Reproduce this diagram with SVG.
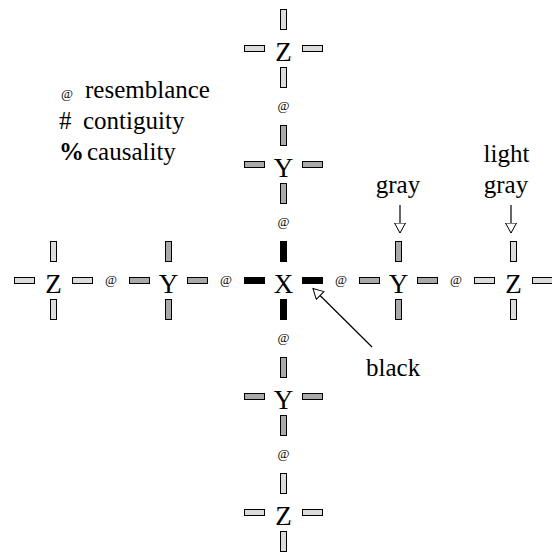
<svg xmlns="http://www.w3.org/2000/svg" width="552" height="556" viewBox="0 0 552 556">
<style>
text { font-family: "Liberation Serif", "Times New Roman", serif; fill: #000; }
.n { font-size: 27px; text-anchor: middle; }
.at { font-size: 13px; text-anchor: middle; }
.lb { font-size: 25px; }
.c { text-anchor: middle; }
rect { stroke: #000; stroke-width: 1; }
.k { fill: #000; }
.g { fill: #a9a9a9; }
.l { fill: #dcdcdc; }
.arr { stroke: #000; stroke-width: 1.2; fill: none; marker-end: url(#open); }
</style>
<defs>
<marker id="open" markerUnits="userSpaceOnUse" markerWidth="14" markerHeight="14" refX="10.5" refY="6" orient="auto">
<path d="M0.5,0.5 L10.5,6 L0.5,11.5 Z" fill="#fff" stroke="#000" stroke-width="1"/>
</marker>
<g id="bars">
<rect x="-39" y="-3" width="20" height="6"/>
<rect x="19" y="-3" width="20" height="6"/>
<rect x="-3" y="-39" width="6" height="20"/>
<rect x="-3" y="19" width="6" height="20"/>
</g>
</defs>

<g id="legend" class="lb">
<text x="61" y="98"><tspan font-size="13">@</tspan><tspan x="85">resemblance</tspan></text>
<text x="59" y="129">#<tspan x="83">contiguity</tspan></text>
<text x="59" y="160"><tspan font-weight="bold">%</tspan><tspan x="87">causality</tspan></text>
</g>

<g id="node-X" class="k" transform="translate(283.5,280.5)"><use href="#bars"/><text class="n" x="0" y="12.5">X</text></g>
<g id="node-Y-top" class="g" transform="translate(283.5,164.5)"><use href="#bars"/><text class="n" x="0" y="12.5">Y</text></g>
<g id="node-Z-top" class="l" transform="translate(283.5,48.5)"><use href="#bars"/><text class="n" x="0" y="12.5">Z</text></g>
<g id="node-Y-bottom" class="g" transform="translate(283.5,396.5)"><use href="#bars"/><text class="n" x="0" y="12.5">Y</text></g>
<g id="node-Z-bottom" class="l" transform="translate(283.5,512.5)"><use href="#bars"/><text class="n" x="0" y="12.5">Z</text></g>
<g id="node-Y-left" class="g" transform="translate(168.5,280.5)"><use href="#bars"/><text class="n" x="0" y="12.5">Y</text></g>
<g id="node-Z-left" class="l" transform="translate(53.5,280.5)"><use href="#bars"/><text class="n" x="0" y="12.5">Z</text></g>
<g id="node-Y-right" class="g" transform="translate(398.5,280.5)"><use href="#bars"/><text class="n" x="0" y="12.5">Y</text></g>
<g id="node-Z-right" class="l" transform="translate(513.5,280.5)"><use href="#bars"/><text class="n" x="0" y="12.5">Z</text></g>

<g id="relations">
<text class="at" x="283.5" y="110">@</text>
<text class="at" x="283.5" y="226">@</text>
<text class="at" x="283.5" y="342">@</text>
<text class="at" x="283.5" y="458">@</text>
<text class="at" x="111" y="284">@</text>
<text class="at" x="226" y="284">@</text>
<text class="at" x="341" y="284">@</text>
<text class="at" x="456" y="284">@</text>
</g>

<g id="labels" class="lb">
<text class="c" x="398" y="193">gray</text>
<text class="c" x="506.5" y="162">light</text>
<text class="c" x="506" y="193">gray</text>
<text x="366" y="376">black</text>
</g>

<g id="connectors">
<line class="arr" x1="400" y1="205" x2="400" y2="233"/>
<line class="arr" x1="511" y1="205" x2="511" y2="233"/>
<line class="arr" x1="372" y1="347" x2="313" y2="288.5"/>
</g>
</svg>
